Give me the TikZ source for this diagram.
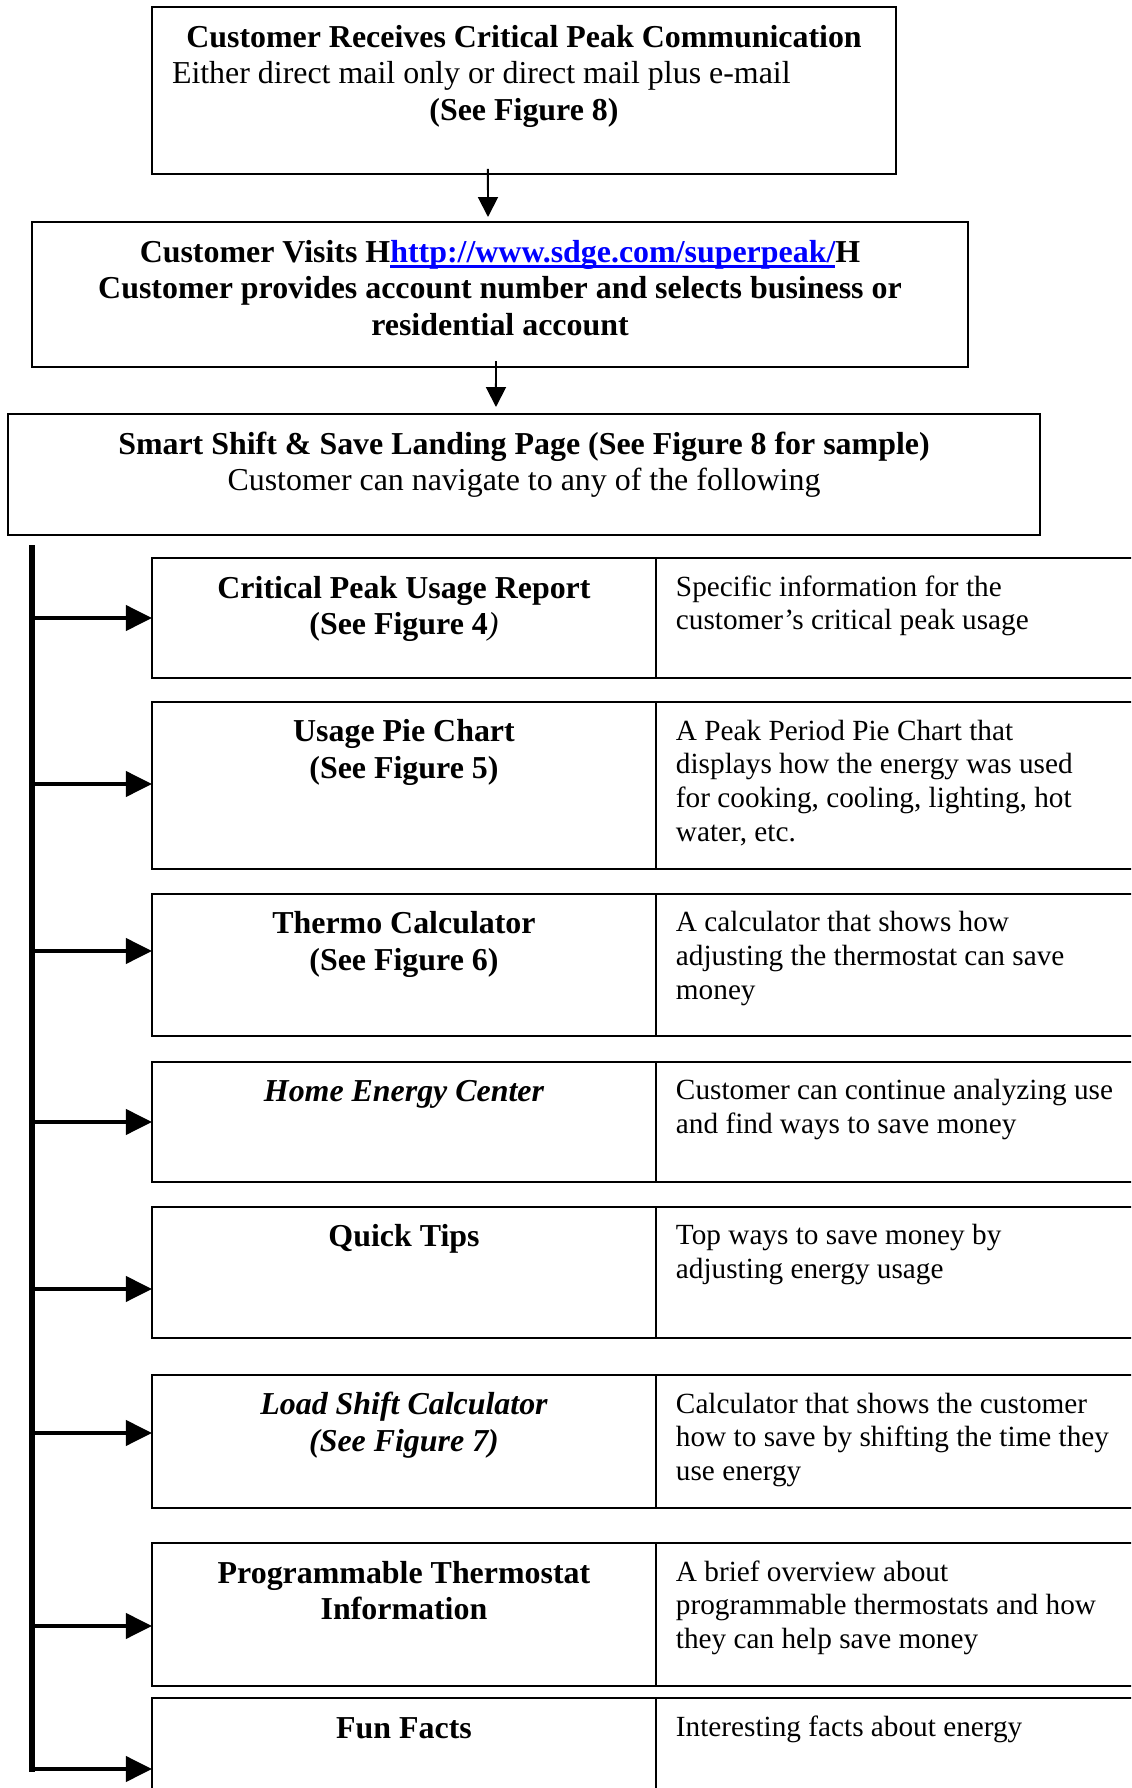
\documentclass[tikz,border=0pt]{standalone}
\usepackage{fontspec}
\setmainfont{Liberation Serif}
\usepackage{tikz}
\usetikzlibrary{arrows.meta,positioning}
\definecolor{linkblue}{RGB}{0,0,255}
\newcommand{\weblink}[1]{{\color{linkblue}\setbox0\hbox{#1}\rlap{\rule[-2.2pt]{\wd0}{1.1pt}}\box0}}

\begin{document}
\begin{tikzpicture}[x=0.376pt,y=-0.376pt,
  stage/.style={draw,line width=.75pt,outer sep=0pt,inner sep=0pt,align=flush center,text height=15.04pt,font=\fontsize{12}{13.9}\selectfont},
  tool/.style={draw,line width=.75pt,outer sep=0pt,inner sep=0pt,text width=189.5pt,align=flush center,text height=15.04pt,font=\bfseries\fontsize{12}{13.9}\selectfont},
  blurb/.style={draw,line width=.75pt,outer sep=0pt,inner xsep=7.52pt,inner ysep=0pt,text width=180pt,align=flush left,text height=14.29pt,font=\fontsize{11}{12.67}\selectfont},
  flow/.style={-{Triangle[length=7.5pt,width=7.5pt]},line width=.75pt},
  feed/.style={-{Triangle[length=9.8pt,width=9.4pt]},line width=1.5pt}]

  \useasboundingbox (0,0) rectangle (1131,1788);
  \clip (0,0) rectangle (1131,1788);

  \node[stage,text width=279.74pt,text depth=47.75pt,anchor=north west] (comm) at (152,7) {\textbf{Customer Receives Critical Peak Communication}\\ \makebox[264.7pt][l]{Either direct mail only or direct mail plus e-mail}\\ \textbf{(See Figure 8)}};
  \node[stage,font=\bfseries\fontsize{12}{13.9}\selectfont,text width=351.94pt,text depth=39.48pt,anchor=north west] (visit) at (32,222) {Customer Visits H\weblink{http://www.sdge.com/superpeak/}H\\ Customer provides account number and selects business or\\ residential account};
  \node[stage,text width=388.03pt,text depth=30.46pt,anchor=north west] (landing) at (8,414) {\textbf{Smart Shift \& Save Landing Page (See Figure 8 for sample)}\\ Customer can navigate to any of the following};

  \node[tool,text depth=30.08pt,anchor=north west] (usage) at (152,558) {Critical Peak Usage Report\\ (See Figure 4\textmd{\textit{)}}};
  \node[blurb,text depth=30.83pt,right=0pt of usage] (usagenote) {Specific information for the\\ customer’s critical peak usage};
  \node[tool,text depth=47.75pt,below=9.02pt of usage.south west,anchor=north west] (pie) {Usage Pie Chart\\ (See Figure 5)};
  \node[blurb,text depth=48.50pt,right=0pt of pie] (pienote) {A Peak Period Pie Chart that\\ displays how the energy was used\\ for cooking, cooling, lighting, hot\\ water, etc.};
  \node[tool,text depth=38.35pt,below=9.40pt of pie.south west,anchor=north west] (thermo) {Thermo Calculator\\ (See Figure 6)};
  \node[blurb,text depth=39.10pt,right=0pt of thermo] (thermonote) {A calculator that shows how\\ adjusting the thermostat can save\\ money};
  \node[tool,font=\bfseries\itshape\fontsize{12}{13.9}\selectfont,text depth=30.08pt,below=9.78pt of thermo.south west,anchor=north west] (home) {Home Energy Center};
  \node[blurb,text depth=30.83pt,right=0pt of home] (homenote) {Customer can continue analyzing use\\ and find ways to save money};
  \node[tool,text depth=34.22pt,below=9.40pt of home.south west,anchor=north west] (tips) {Quick Tips};
  \node[blurb,text depth=34.97pt,right=0pt of tips] (tipsnote) {Top ways to save money by\\ adjusting energy usage};
  \node[tool,font=\bfseries\itshape\fontsize{12}{13.9}\selectfont,text depth=34.97pt,below=13.91pt of tips.south west,anchor=north west] (shift) {Load Shift Calculator\\ (See Figure 7)};
  \node[blurb,text depth=35.72pt,right=0pt of shift] (shiftnote) {Calculator that shows the customer\\ how to save by shifting the time they\\ use energy};
  \node[tool,text depth=38.73pt,below=13.16pt of shift.south west,anchor=north west] (prog) {Programmable Thermostat\\ Information};
  \node[blurb,text depth=39.48pt,right=0pt of prog] (prognote) {A brief overview about\\ programmable thermostats and how\\ they can help save money};
  \node[tool,text depth=30.08pt,below=4.51pt of prog.south west,anchor=north west] (fun) {Fun Facts};
  \node[blurb,text depth=30.83pt,right=0pt of fun] (funnote) {Interesting facts about energy};

  \draw[flow] ([shift={(-36,-5)}]comm.south) -- ([shift={(-12,-5)}]visit.north);
  \draw[flow] ([shift={(-4,-6)}]visit.south) -- ([shift={(-28,-7)}]landing.north);

  \coordinate (spine) at (32,547.5);
  \coordinate (a1) at (usage.west);
  \coordinate (a2) at ([yshift=.56pt]pie.west);
  \coordinate (a3) at ([yshift=5.26pt]thermo.west);
  \coordinate (a4) at (home.west);
  \coordinate (a5) at ([yshift=-6.2pt]tips.west);
  \coordinate (a6) at ([yshift=3.2pt]shift.west);
  \coordinate (a7) at ([yshift=-4.32pt]prog.west);
  \coordinate (a8) at ([yshift=-4.14pt]fun.west);
  \draw[line width=1.9pt,line cap=rect] (spine) -- (spine |- a8);
  \draw[feed] (spine |- a1) -- (a1);
  \draw[feed] (spine |- a2) -- (a2);
  \draw[feed] (spine |- a3) -- (a3);
  \draw[feed] (spine |- a4) -- (a4);
  \draw[feed] (spine |- a5) -- (a5);
  \draw[feed] (spine |- a6) -- (a6);
  \draw[feed] (spine |- a7) -- (a7);
  \draw[feed] (spine |- a8) -- (a8);
\end{tikzpicture}
\end{document}
